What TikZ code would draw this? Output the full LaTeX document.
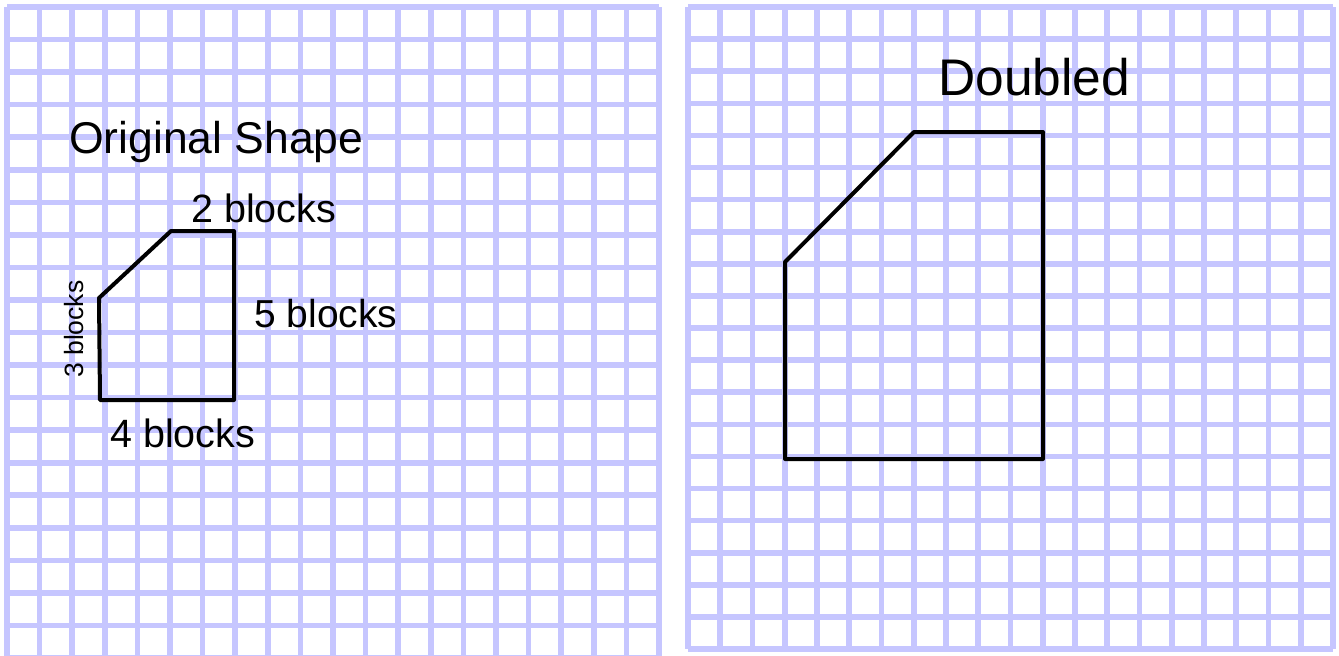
\documentclass[tikz,border=0pt]{standalone}
\usepackage{fontspec}
\setmainfont{Liberation Sans}
\definecolor{gridblue}{RGB}{198,198,255}
\begin{document}
\begin{tikzpicture}[x=1pt,y=-1pt,
  gridline/.style={draw=gridblue,line width=5.6pt},
  shapeline/.style={draw=black,line width=4pt,line join=round,line cap=round},
  lbl/.style={inner sep=0pt,anchor=base west,text=black}]
\useasboundingbox (0,0) rectangle (1339,656);
\clip (0,0) rectangle (1339,656);
% left grid
\foreach \i in {0,...,20}{
  \draw[gridline] ({7+32.6*\i},7) -- ({7+32.6*\i},658);
  \draw[gridline] (7,{7+32.55*\i}) -- (659,{7+32.55*\i});
}
% right grid
\foreach \i in {0,...,20}{
  \draw[gridline] ({688+32.25*\i},7) -- ({688+32.25*\i},649);
  \draw[gridline] (688,{7+32.1*\i}) -- (1333,{7+32.1*\i});
}
% original shape
\coordinate (a1) at (100,400);
\coordinate (a2) at (234,400);
\coordinate (a3) at (234,231);
\coordinate (a4) at (171,231);
\coordinate (a5) at (99,298);
\draw[shapeline] (a1) -- (a2) -- (a3) -- (a4) -- (a5) -- cycle;
% doubled shape
\coordinate (b1) at (785,459);
\coordinate (b2) at (1043,459);
\coordinate (b3) at (1043,132);
\coordinate (b4) at (914,132);
\coordinate (b5) at (785,262);
\draw[shapeline] (b1) -- (b2) -- (b3) -- (b4) -- (b5) -- cycle;
% labels
\node[lbl,font=\fontsize{44.5}{50}\selectfont] (title1) at (69,153) {Original Shape};
\node[lbl,font=\fontsize{51.5}{56}\selectfont] (title2) at (938,95) {Doubled};
\node[lbl,font=\fontsize{39.5}{44}\selectfont] (top) at (191,222) {2 blocks};
\node[lbl,font=\fontsize{39}{44}\selectfont] (right) at (254,327.5) {5 blocks};
\node[lbl,font=\fontsize{39.5}{44}\selectfont] (bottom) at (110,447) {4 blocks};
\node[lbl,font=\fontsize{26.5}{30}\selectfont,rotate=90] (left) at (83,378) {3 blocks};
\end{tikzpicture}
\end{document}
